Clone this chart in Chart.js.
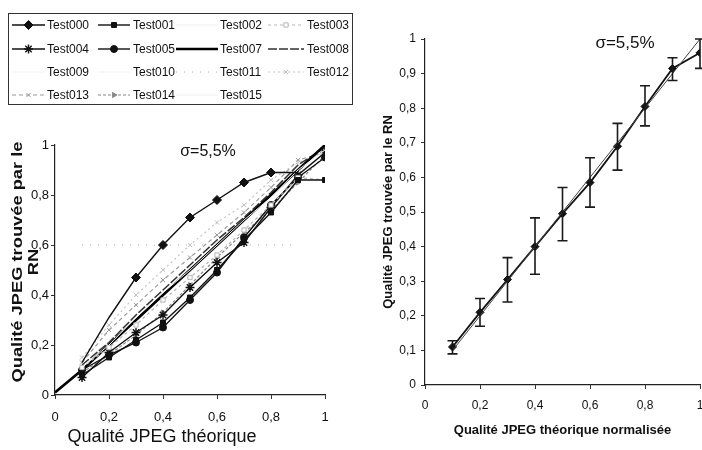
<!DOCTYPE html>
<html><head><meta charset="utf-8">
<script src="https://cdn.jsdelivr.net/npm/chart.js@4.4.0/dist/chart.umd.min.js"></script>
<style>
html,body{margin:0;padding:0;background:#fff;overflow:hidden;width:702px;height:450px}
#c1{position:absolute;left:0;top:0}
#c2{position:absolute;left:345px;top:0}
</style></head><body>
<canvas id="c1" width="360" height="450"></canvas>
<canvas id="c2" width="380" height="450"></canvas>
<script>
// ---------- data (left chart) ----------
const xLeft  = [0.1,0.2,0.3,0.4,0.5,0.6,0.7,0.8,0.9,1.0];
const xDiag  = [0,0.1,0.2,0.3,0.4,0.5,0.6,0.7,0.8,0.9,1.0];
const test000 = [0.13,0.31,0.47,0.60,0.71,0.78,0.85,0.89,0.89,null];
const test001 = [0.08,0.15,0.22,0.29,0.39,0.50,0.62,0.73,0.86,0.86];
const test002 = [0.11,0.20,0.31,0.41,0.50,0.60,0.70,0.79,0.90,0.98];
const test003 = [0.11,0.19,0.28,0.38,0.47,0.56,0.66,0.76,0.87,0.86];
const test004 = [0.07,0.17,0.25,0.32,0.43,0.53,0.61,0.75,0.88,0.97];
const test005 = [0.10,0.16,0.21,0.27,0.38,0.49,0.63,0.76,0.87,0.95];
const test007 = [0.01,0.10,0.20,0.30,0.40,0.50,0.60,0.70,0.80,0.90,1.00];
const test008 = [0.12,0.21,0.32,0.42,0.52,0.62,0.71,0.81,0.92,0.99];
const test009 = [0.10,0.21,0.29,0.40,0.51,0.59,0.69,0.80,0.89,0.97];
const test010 = [0.12,0.22,0.30,0.39,0.49,0.61,0.71,0.81,0.91,0.99];
const test011 = [0.60,0.60,0.60,0.60,0.60,0.60,0.60,0.60,0.60,null];
const test012 = [0.15,0.28,0.40,0.50,0.60,0.69,0.76,0.86,0.93,0.97];
const test013 = [0.13,0.26,0.36,0.46,0.55,0.64,0.73,0.83,0.94,0.97];
const test014 = [0.09,0.16,0.24,0.33,0.44,0.55,0.65,0.74,0.85,0.96];
const test015 = [0.10,0.20,0.30,0.40,0.50,0.60,0.70,0.80,0.90,1.00];
const leftTicks = [0,0.2,0.4,0.6,0.8,1];
const leftXTitle = 'Qualité JPEG théorique';
const leftYTitle = ['Qualité JPEG trouvée par le', 'RN'];

// ---------- data (right chart) ----------
const xRight   = [0.1,0.2,0.3,0.4,0.5,0.6,0.7,0.8,0.9,1.0];
const meanRN   = [0.11,0.21,0.305,0.40,0.495,0.585,0.69,0.805,0.915,0.96];
const idealRN  = [0.10,0.20,0.30,0.40,0.50,0.60,0.70,0.80,0.90,1.00];
const errLow   = [0.09,0.17,0.24,0.32,0.417,0.514,0.621,0.749,0.88,0.915];
const errHigh  = [0.128,0.25,0.368,0.483,0.571,0.657,0.756,0.865,0.946,1.0];

const sigmaText = 'σ=5,5%';
const FONT = '"Liberation Sans", Arial, Helvetica, sans-serif';

function fr(v){ return String(Math.round(v*10)/10).replace('.', ','); }
function pts(xs, ys){ return ys.map((y,i)=> y===null ? null : ({x:xs[i], y:y})).filter(p=>p); }

function ds(label, xs, ys, st){
  return Object.assign({
    label, data: pts(xs, ys), borderColor: '#111', backgroundColor: '#111',
    borderWidth: 1.4, pointRadius: 0, pointStyle: 'circle', pointBorderWidth: 1,
    borderDash: [], tension: 0, fill: false
  }, st);
}
const faint = {borderColor:'#f1f1f1', backgroundColor:'#f1f1f1', borderWidth:1};

const leftSets = [
  ds('Test000', xLeft, test000, {pointStyle:'rectRot', pointRadius:[0,0,4.5,4.5,4.5,4.5,4.5,4.5,0], legendRadius:4.5}),
  ds('Test001', xLeft, test001, {pointStyle:'rect', pointRadius:3.5}),
  ds('Test002', xLeft, test002, faint),
  ds('Test003', xLeft, test003, {borderColor:'#b5b5b5', backgroundColor:'#fff', borderDash:[3,3], borderWidth:1.2, pointStyle:'rect', pointRadius:3}),
  ds('Test004', xLeft, test004, {pointStyle:'star', pointRadius:4.5, pointBorderWidth:1.4}),
  ds('Test005', xLeft, test005, {pointStyle:'circle', pointRadius:3.5}),
  ds('Test007', xDiag, test007, {borderColor:'#000', borderWidth:2.6}),
  ds('Test008', xLeft, test008, {borderColor:'#333', borderWidth:1.5, borderDash:[9,2]}),
  ds('Test009', xLeft, test009, faint),
  ds('Test010', xLeft, test010, faint),
  ds('Test011', xLeft, test011, {borderColor:'#b0b0b0', borderWidth:1, borderDash:[1,7]}),
  ds('Test012', xLeft, test012, {borderColor:'#c4c4c4', borderDash:[2,3], borderWidth:1.2, pointStyle:'crossRot', pointRadius:3}),
  ds('Test013', xLeft, test013, {borderColor:'#9a9a9a', backgroundColor:'#9a9a9a', borderDash:[4,3], borderWidth:1.2, pointStyle:'crossRot', pointRadius:3}),
  ds('Test014', xLeft, test014, {borderColor:'#8a8a8a', backgroundColor:'#8a8a8a', borderDash:[3,2], borderWidth:1.2, pointStyle:'triangle', pointRotation:90, pointRadius:3}),
  ds('Test015', xLeft, test015, faint)
];

// legend plugin (4 columns, boxed)
const legendPlugin = {
  id: 'boxLegend',
  afterDraw(chart){
    const ctx = chart.ctx;
    const box = {x:8.5, y:13.5, w:344, h:91};
    const sampleX = [[12,45],[98,130],[176,218],[268,304]];
    const textX = [47,133,220,307];
    const rowY = [25,49,72,95];
    ctx.save();
    ctx.strokeStyle = '#333'; ctx.lineWidth = 1; ctx.setLineDash([]);
    ctx.strokeRect(box.x, box.y, box.w, box.h);
    chart.data.datasets.forEach((d,i)=>{
      const col = i % 4, row = Math.floor(i/4);
      const y = rowY[row];
      const [x0,x1] = sampleX[col];
      ctx.strokeStyle = d.borderColor; ctx.lineWidth = Math.min(d.borderWidth, 2.4);
      ctx.setLineDash(d.borderDash || []);
      ctx.beginPath(); ctx.moveTo(x0, y); ctx.lineTo(x1, y); ctx.stroke();
      ctx.setLineDash([]);
      const r = d.legendRadius || (Array.isArray(d.pointRadius) ? 0 : d.pointRadius);
      if (r > 0 && Chart.helpers && Chart.helpers.drawPoint){
        ctx.fillStyle = d.backgroundColor; ctx.strokeStyle = d.borderColor; ctx.lineWidth = d.pointBorderWidth || 1;
        Chart.helpers.drawPoint(ctx, {pointStyle:d.pointStyle, rotation:d.pointRotation||0, radius:r, borderWidth:d.pointBorderWidth||1}, (x0+x1)/2, y);
      }
      ctx.fillStyle = '#111'; ctx.font = '12px ' + FONT;
      ctx.textBaseline = 'middle'; ctx.textAlign = 'left';
      ctx.fillText(d.label, textX[col], y+0.5);
    });
    ctx.restore();
  }
};

// axis titles of the left chart, placed as in the reference
const leftTitlesPlugin = {
  id: 'leftTitles',
  afterDraw(chart){
    const ctx = chart.ctx; ctx.save();
    ctx.fillStyle = '#111'; ctx.textAlign = 'center'; ctx.textBaseline = 'middle';
    ctx.font = '18px ' + FONT;
    ctx.fillText(leftXTitle, 162, 437);
    ctx.font = 'bold 15px ' + FONT;
    const cx = [18, 34];
    leftYTitle.forEach((t,i)=>{
      ctx.save(); ctx.translate(cx[i], 262); ctx.rotate(-Math.PI/2); ctx.scale(1.22, 1);
      ctx.fillText(t, 0, 0); ctx.restore();
    });
    ctx.restore();
  }
};

function sigmaPlugin(x, y, size){
  return { id:'sigma'+x, afterDraw(chart){
    const ctx = chart.ctx; ctx.save();
    ctx.fillStyle = '#111'; ctx.font = size + 'px ' + FONT;
    ctx.textAlign = 'center'; ctx.textBaseline = 'middle';
    ctx.fillText(sigmaText, x, y); ctx.restore();
  }};
}

function axis(opts){
  return Object.assign({
    type:'linear', min:0, max:1,
    border:{display:true, color:'#222', width:1.2},
    grid:{drawOnChartArea:false, drawTicks:true, tickLength:4, color:'#333'},
  }, opts);
}

new Chart(document.getElementById('c1'), {
  type:'line',
  data:{datasets:leftSets},
  options:{
    responsive:false, animation:false, events:[],
    layout:{padding:{top:145, right:35, left:0, bottom:0}},
    plugins:{legend:{display:false}, tooltip:{enabled:false}},
    scales:{
      x: axis({
        ticks:{stepSize:0.2, padding:11, color:'#111', font:{family:FONT, size:13}, callback:v=>fr(v)},
        afterFit(s){ s.height = 55; }
      }),
      y: axis({
        afterBuildTicks(s){ s.ticks = leftTicks.map(v=>({value:v})); },
        ticks:{padding:2, color:'#111', font:{family:FONT, size:13}, callback:v=>fr(v)},
        afterFit(s){ s.width = 55; }
      })
    }
  },
  plugins:[legendPlugin, leftTitlesPlugin, sigmaPlugin(208,152,16)]
});

// error bar plugin
const errPlugin = {
  id:'errBars',
  afterDatasetsDraw(chart){
    const ctx = chart.ctx, xs = chart.scales.x, ys = chart.scales.y;
    ctx.save(); ctx.strokeStyle = '#1a1a1a'; ctx.lineWidth = 1.6;
    xRight.forEach((xv,i)=>{
      const px = xs.getPixelForValue(xv);
      const pl = ys.getPixelForValue(errLow[i]), ph = ys.getPixelForValue(errHigh[i]);
      ctx.beginPath();
      ctx.moveTo(px, pl); ctx.lineTo(px, ph);
      ctx.moveTo(px-5, pl); ctx.lineTo(px+5, pl);
      ctx.moveTo(px-5, ph); ctx.lineTo(px+5, ph);
      ctx.stroke();
    });
    ctx.restore();
  }
};

new Chart(document.getElementById('c2'), {
  type:'line',
  data:{datasets:[
    ds('Idéal', xRight, idealRN, {borderColor:'#444', borderWidth:1}),
    ds('Moyenne', xRight, meanRN, {borderColor:'#111', borderWidth:1.8, pointStyle:'rectRot', pointRadius:4})
  ]},
  options:{
    responsive:false, animation:false, events:[],
    layout:{padding:{top:39, right:25, left:0, bottom:0}},
    plugins:{legend:{display:false}, tooltip:{enabled:false}},
    scales:{
      x: axis({
        ticks:{stepSize:0.2, padding:9, color:'#111', font:{family:FONT, size:12}, callback:v=>fr(v)},
        title:{display:true, text:'Qualité JPEG théorique normalisée', color:'#111', font:{family:FONT, size:13, weight:'bold'}, padding:{bottom:12}},
        afterFit(s){ s.height = 65; }
      }),
      y: axis({
        ticks:{stepSize:0.1, padding:5, color:'#111', font:{family:FONT, size:12}, callback:v=>fr(v)},
        title:{display:true, text:'Qualité JPEG trouvée par le RN', color:'#111', font:{family:FONT, size:13, weight:'bold'}, padding:{top:36}},
        afterFit(s){ s.width = 80; }
      })
    }
  },
  plugins:[errPlugin, sigmaPlugin(280,43,17)]
});
</script>
</body></html>
